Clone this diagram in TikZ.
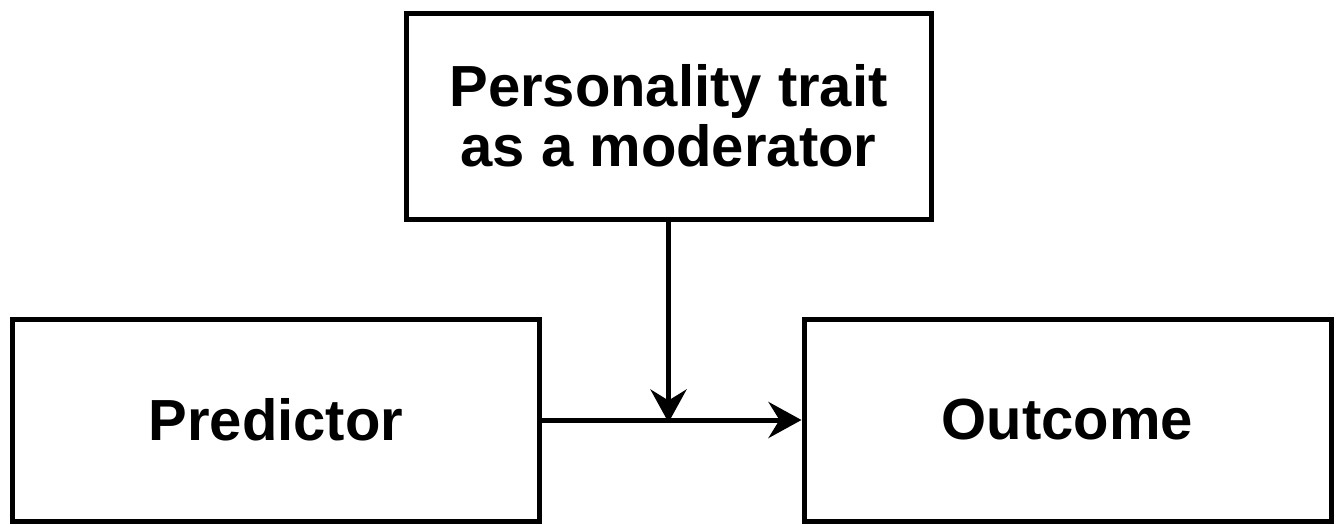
\documentclass[tikz,border=0pt]{standalone}
\usepackage{fontspec}
\setmainfont{Liberation Sans}
\usetikzlibrary{arrows.meta}
\tikzset{
  varbox/.style={draw, line width=5pt, inner sep=0pt, align=center,
    font=\bfseries\fontsize{58}{60}\selectfont},
  effect/.style={line width=5pt, -{Stealth[length=33pt,width=36pt,inset=11pt]}}
}
\begin{document}
\begin{tikzpicture}[x=1pt,y=-1pt]
 \useasboundingbox (0,0) rectangle (1342,525);
 \node[varbox, minimum width=525pt, minimum height=206pt] (trait) at (668.5,116) {Personality trait\\as a moderator};
 \node[varbox, minimum width=527pt, minimum height=202pt] (pred) at (276,420) {Predictor};
 \node[varbox, minimum width=527pt, minimum height=202pt] (out) at (1067.5,420) {Outcome};

 \draw[effect] (pred) -- (out);
 \coordinate (meet) at ([yshift=-2.5pt]trait.south |- pred.east);
 \draw[effect] (trait) -- (meet);
\end{tikzpicture}
\end{document}
